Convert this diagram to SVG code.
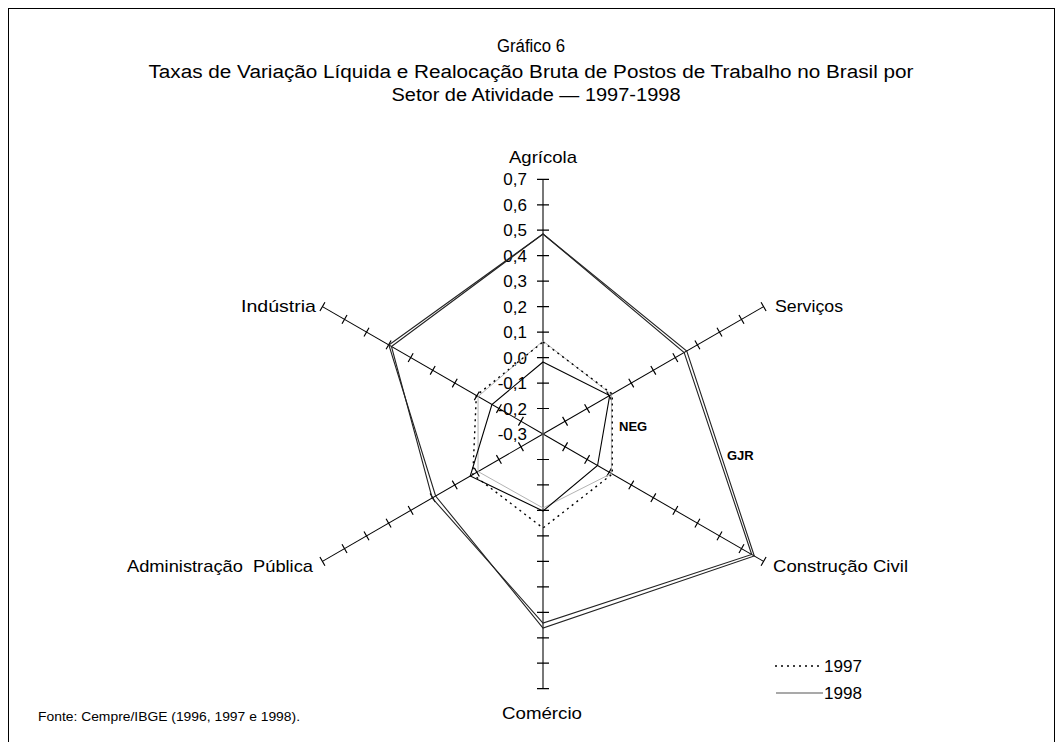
<svg xmlns="http://www.w3.org/2000/svg" xmlns:xlink="http://www.w3.org/1999/xlink" width="1063" height="742" viewBox="0 0 1063 742">
<style>
text{font-family:"Liberation Sans",Arial,sans-serif;fill:#000}
.t{font-size:18px;text-anchor:middle}
.lab{font-size:17px}
.sc{font-size:17px;text-anchor:end}
.b{font-size:13px;font-weight:bold}
.ax{stroke:#000;stroke-width:1;fill:none}
.vax{stroke:#555;stroke-width:1.6;fill:none}
.tk{stroke:#000;stroke-width:1.2}
.gjr{fill:none;stroke:#222;stroke-width:1.1}
.s97{fill:none;stroke:#000;stroke-width:1.4;stroke-dasharray:2,4}
.s98{fill:none;stroke:#000;stroke-width:1.1}
.sg{fill:none;stroke:#aaa;stroke-width:0.9}
</style>
<defs>
<g id="axis">
<line class="ax" x1="0" y1="0" x2="0" y2="-254.7"/>
<path class="tk" d="M-5,-25.5H5M-5,-50.9H5M-5,-76.4H5M-5,-101.9H5M-5,-127.4H5M-5,-152.8H5M-5,-178.3H5M-5,-203.8H5M-5,-229.2H5M-5,-254.7H5"/>
</g>
</defs>
<rect x="8.5" y="8.5" width="1046" height="760" fill="none" stroke="#000" stroke-width="1"/>
<g id="title">
<text class="t" x="531" y="52" textLength="68" lengthAdjust="spacingAndGlyphs">Gráfico 6</text>
<text class="t" x="531" y="78" textLength="765" lengthAdjust="spacingAndGlyphs">Taxas de Variação Líquida e Realocação Bruta de Postos de Trabalho no Brasil por</text>
<text class="t" x="536" y="101" textLength="289" lengthAdjust="spacingAndGlyphs">Setor de Atividade — 1997-1998</text>
</g>
<g id="axes">
<use xlink:href="#axis" transform="translate(543,434) rotate(60)"/>
<use xlink:href="#axis" transform="translate(543,434) rotate(120)"/>
<use xlink:href="#axis" transform="translate(543,434) rotate(240)"/>
<use xlink:href="#axis" transform="translate(543,434) rotate(300)"/>
<line class="vax" x1="543" y1="179.3" x2="543" y2="688.7"/>
<path class="tk" d="M537,179.3H549M537,204.8H549M537,230.2H549M537,255.7H549M537,281.2H549M537,306.6H549M537,332.1H549M537,357.6H549M537,383.1H549M537,408.5H549M537,459.5H549M537,484.9H549M537,510.4H549M537,535.9H549M537,561.3H549M537,586.8H549M537,612.3H549M537,637.8H549M537,663.2H549M537,688.7H549"/>
</g>
<g id="scale">
<text class="sc" x="527" y="185">0,7</text>
<text class="sc" x="527" y="211">0,6</text>
<text class="sc" x="527" y="236">0,5</text>
<text class="sc" x="527" y="262">0,4</text>
<text class="sc" x="527" y="287">0,3</text>
<text class="sc" x="527" y="313">0,2</text>
<text class="sc" x="527" y="338">0,1</text>
<text class="sc" x="527" y="364">0,0</text>
<text class="sc" x="527" y="389">-0,1</text>
<text class="sc" x="527" y="415">-0,2</text>
<text class="sc" x="527" y="440">-0,3</text>
</g>
<g id="series">
<polygon class="gjr" points="543,234 684.16,352.5 751.71,554.5 543,623 432.15,498 391.45,346.5"/>
<polygon class="gjr" points="543,234 686.76,351 754.3,556 543,628 435.62,496 388.85,345"/>
<polygon class="sg" points="543,341 611.41,394.5 611.41,473.5 543,508 478.05,471.5 478.05,396.5"/>
<polygon class="s97" points="543,342 612.28,394 612.28,474 543,528 472.85,474.5 476.32,395.5"/>
<polygon class="s98" points="543,362 609.68,395.5 597.56,465.5 543,511 470.26,476 491.91,404.5"/>
</g>
<g id="n-agricola"><text class="lab" x="509" y="163" textLength="68" lengthAdjust="spacingAndGlyphs">Agrícola</text></g>
<g id="n-servicos"><text class="lab" x="775" y="312" textLength="68" lengthAdjust="spacingAndGlyphs">Serviços</text></g>
<g id="n-construcao"><text class="lab" x="773" y="572" textLength="135" lengthAdjust="spacingAndGlyphs">Construção Civil</text></g>
<g id="n-comercio"><text class="lab" x="502" y="719" textLength="80" lengthAdjust="spacingAndGlyphs">Comércio</text></g>
<g id="n-admin"><text class="lab" x="127" y="572" textLength="186" lengthAdjust="spacingAndGlyphs">Administração&#160; Pública</text></g>
<g id="n-industria"><text class="lab" x="241" y="312" textLength="75" lengthAdjust="spacingAndGlyphs">Indústria</text></g>
<g id="n-neg"><text class="b" x="619" y="431">NEG</text></g>
<g id="n-gjr"><text class="b" x="727" y="460">GJR</text></g>
<g id="legend">
<line class="s97" x1="775" y1="666" x2="823" y2="666"/>
<text class="lab" x="824" y="672" textLength="38" lengthAdjust="spacingAndGlyphs">1997</text>
<line x1="776" y1="693" x2="823" y2="693" stroke="#555" stroke-width="1.2"/>
<text class="lab" x="824" y="699" textLength="38" lengthAdjust="spacingAndGlyphs">1998</text>
</g>
<g id="source"><text x="38" y="721" font-size="13.5" textLength="262" lengthAdjust="spacingAndGlyphs">Fonte: Cempre/IBGE (1996, 1997 e 1998).</text></g>
</svg>
